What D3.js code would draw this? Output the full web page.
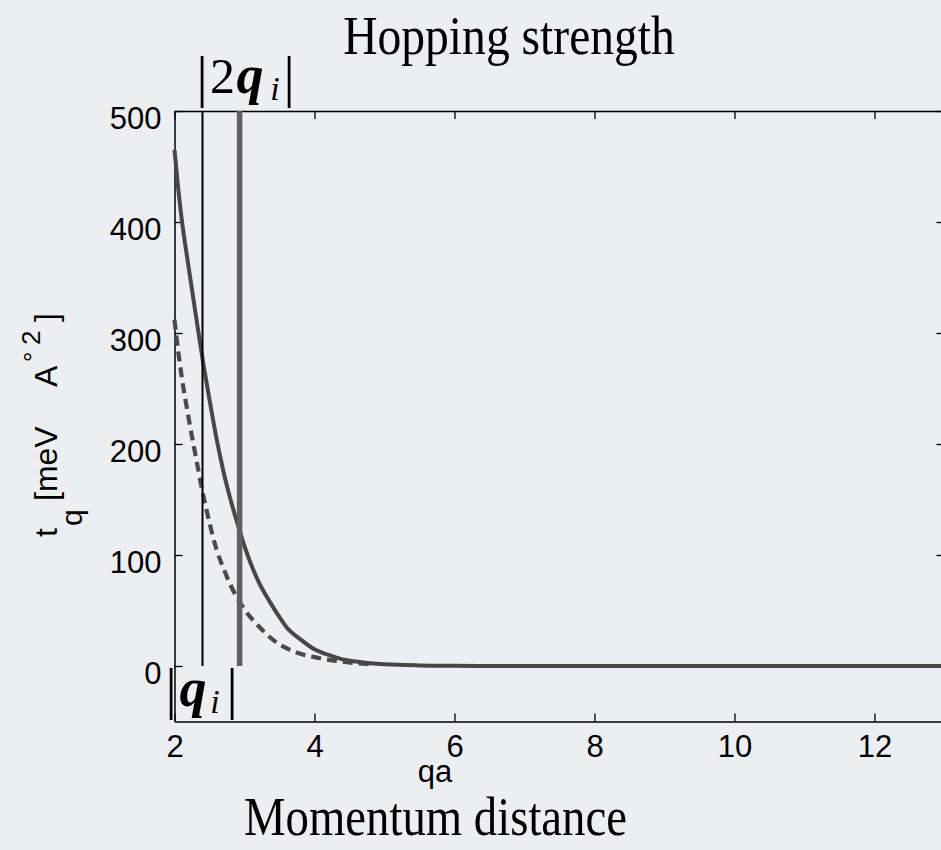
<!DOCTYPE html>
<html>
<head>
<meta charset="utf-8">
<script src="https://cdn.jsdelivr.net/npm/d3@7/dist/d3.min.js"></script>
<style>
  html, body { margin: 0; padding: 0; background: #eceef1; }
  svg { display: block; }
</style>
</head>
<body>
<svg id="chart" width="941" height="850"></svg>
<script>
// Momentum values (qa) and hopping strengths t_q for the two curves
const qSolid = [2.0, 2.05, 2.1, 2.2, 2.3, 2.41, 2.5, 2.6, 2.7, 2.8, 2.93, 3.0, 3.2, 3.36, 3.5, 3.6, 3.8, 4.0, 4.2, 4.4, 4.6, 4.8, 5.0, 5.5, 6.0, 7, 8, 9, 10, 11, 12, 13];
const tSolid = [465, 432, 404, 360, 318, 273, 240, 205, 175, 150, 122, 108, 76, 58, 44, 35, 24, 15, 10, 6, 4, 2.5, 1.5, 0.5, 0.2, 0, 0, 0, 0, 0, 0, 0];

const qDashed = [2.0, 2.05, 2.1, 2.2, 2.3, 2.4, 2.5, 2.6, 2.7, 2.8, 2.9, 3.0, 3.2, 3.4, 3.6, 3.8, 4.0, 4.2, 4.4, 4.6, 4.8];
const tDashed = [312, 285, 262, 224, 190, 157, 129, 105, 88, 73, 61, 51, 36, 24, 16, 11, 8, 5.5, 4, 2.5, 1.5];

// Reference momenta |q_i| and |2q_i|
const markerQ = [2.40, 2.93];

const xTicks = [2, 4, 6, 8, 10, 12];
const yTicks = [0, 100, 200, 300, 400, 500];
const xDomain = [2, 13];
const yDomain = [-50, 500];

const svg = d3.select("#chart");
const W = 941, H = 850;
const plotLeft = 174.5, plotRight = 944.5, plotTop = 111, plotBottom = 721.5;

svg.append("rect").attr("width", W).attr("height", H).attr("fill", "#eceef1");

const x = d3.scaleLinear().domain(xDomain).range([plotLeft, plotRight]);
const y = d3.scaleLinear().domain(yDomain).range([plotBottom, plotTop]);

const sans = "'Liberation Sans', Arial, Helvetica, sans-serif";
const serif = "'Liberation Serif', 'Times New Roman', serif";

// Axes: ticks point inward on all four sides, labels on left and bottom
const tickLen = 8;
const axisStyle = g => {
  g.select(".domain").attr("stroke", "#000").attr("stroke-width", 1.5);
  g.selectAll(".tick line").attr("stroke", "#000").attr("stroke-width", 1.3);
};

svg.append("g").attr("transform", `translate(0,${plotBottom})`)
  .call(d3.axisBottom(x).tickValues(xTicks).tickSize(-tickLen).tickSizeOuter(0).tickPadding(13).tickFormat(d3.format("d")))
  .call(axisStyle)
  .call(g => g.selectAll(".tick text").attr("font-family", sans).attr("font-size", 31).attr("fill", "#000").attr("dy", "0.71em"));

svg.append("g").attr("transform", `translate(0,${plotTop})`)
  .call(d3.axisTop(x).tickValues(xTicks).tickSize(-tickLen).tickSizeOuter(0).tickFormat(""))
  .call(axisStyle);

svg.append("g").attr("transform", `translate(${plotLeft},0)`)
  .call(d3.axisLeft(y).tickValues(yTicks).tickSize(-tickLen).tickSizeOuter(0).tickPadding(13).tickFormat(d3.format("d")))
  .call(axisStyle)
  .call(g => g.selectAll(".tick text").attr("font-family", sans).attr("font-size", 31).attr("fill", "#000").attr("dy", "0.55em"));

svg.append("g").attr("transform", `translate(${plotRight},0)`)
  .call(d3.axisRight(y).tickValues(yTicks).tickSize(-tickLen).tickSizeOuter(0).tickFormat(""))
  .call(axisStyle);

// Curves
const line = d3.line().x(d => x(d[0])).y(d => y(d[1])).curve(d3.curveMonotoneX);

svg.append("path")
  .datum(qDashed.map((q, i) => [q, tDashed[i]]))
  .attr("d", line)
  .attr("fill", "none")
  .attr("stroke", "#4a4a4a")
  .attr("stroke-width", 4.2)
  .attr("stroke-dasharray", "10 6");

svg.append("path")
  .datum(qSolid.map((q, i) => [q, tSolid[i]]))
  .attr("d", line)
  .attr("fill", "none")
  .attr("stroke", "#474747")
  .attr("stroke-width", 4);

// Vertical markers at |q_i| (thin black) and |2q_i| (thick gray)
const markerStyle = [{ color: "#000", width: 2 }, { color: "#5f5f5f", width: 5.5 }];
svg.selectAll(".marker").data(markerQ).join("line")
  .attr("class", "marker")
  .attr("x1", d => x(d)).attr("x2", d => x(d))
  .attr("y1", y(500)).attr("y2", y(0))
  .attr("stroke", (d, i) => markerStyle[i].color)
  .attr("stroke-width", (d, i) => markerStyle[i].width);

// Titles
svg.append("text")
  .attr("transform", "translate(509,54) scale(0.85,1)")
  .attr("text-anchor", "middle")
  .attr("font-family", serif).attr("font-size", 56).attr("fill", "#000")
  .text("Hopping strength");

svg.append("text")
  .attr("transform", "translate(435.5,835) scale(0.85,1)")
  .attr("text-anchor", "middle")
  .attr("font-family", serif).attr("font-size", 55).attr("fill", "#000")
  .text("Momentum distance");

svg.append("text")
  .attr("x", 435).attr("y", 782)
  .attr("text-anchor", "middle")
  .attr("font-family", sans).attr("font-size", 31).attr("fill", "#000")
  .text("qa");

// Y label: t_q [meV A°2], reading bottom to top
const yl = svg.append("g").attr("transform", "rotate(-90)")
  .attr("font-family", sans).attr("fill", "#000");
const ylParts = [
  { t: "t", s: 32, at: 537, b: 57 },
  { t: "q", s: 30, at: 526, b: 82 },
  { t: "[meV", s: 32, at: 501, b: 57 },
  { t: "A", s: 32, at: 387, b: 57 },
  { t: "°", s: 26, at: 362, b: 42 },
  { t: "2", s: 26, at: 345, b: 40 },
  { t: "]", s: 32, at: 322, b: 57 }
];
yl.selectAll("text").data(ylParts).join("text")
  .attr("x", d => -d.at).attr("y", d => d.b)
  .attr("font-size", d => d.s)
  .text(d => d.t);

// Math labels |2q_i| and |q_i|
function mathLabel(parts) {
  const g = svg.append("g").attr("font-family", serif).attr("fill", "#000");
  g.selectAll("text").data(parts).join("text")
    .attr("x", d => d.x).attr("y", d => d.y)
    .attr("text-anchor", "middle")
    .attr("font-size", d => d.s)
    .attr("font-weight", d => d.bold ? "bold" : "normal")
    .attr("font-style", d => d.italic ? "italic" : "normal")
    .text(d => d.t);
}
mathLabel([
  { t: "|", x: 202, y: 96, s: 56 },
  { t: "2", x: 222.5, y: 93, s: 50 },
  { t: "q", x: 250, y: 93, s: 54, bold: true, italic: true },
  { t: "i", x: 275, y: 100, s: 34, italic: true },
  { t: "|", x: 289, y: 96, s: 56 }
]);
mathLabel([
  { t: "|", x: 171, y: 708, s: 56 },
  { t: "q", x: 193, y: 706, s: 54, bold: true, italic: true },
  { t: "i", x: 215, y: 713, s: 34, italic: true },
  { t: "|", x: 232, y: 708, s: 56 }
]);
</script>
</body>
</html>
